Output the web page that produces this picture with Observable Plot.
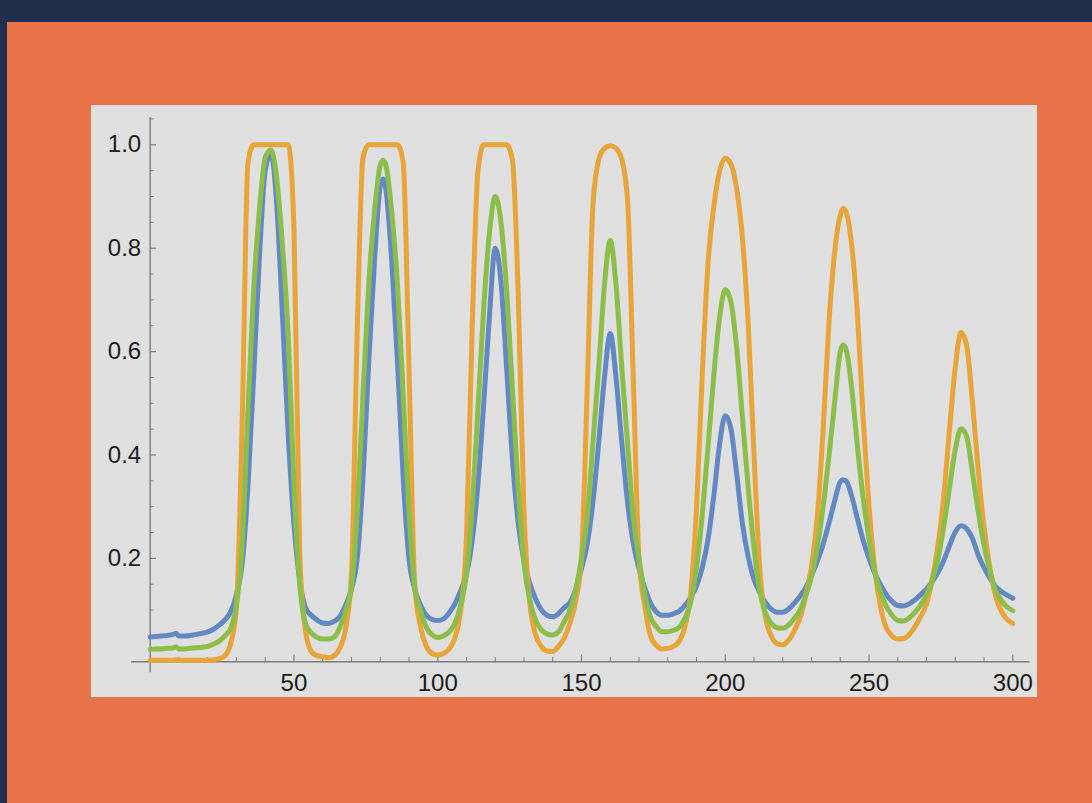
<!DOCTYPE html>
<html><head><meta charset="utf-8">
<script src="https://cdn.jsdelivr.net/npm/d3@7"></script>
<script src="https://cdn.jsdelivr.net/npm/@observablehq/plot@0.6"></script>
<style>
html,body{margin:0;padding:0;background:#1f2f4b;width:1092px;height:803px;overflow:hidden}
#bg{position:absolute;left:7px;top:22px;width:1085px;height:781px;background:#e8744a}
#panel{position:absolute;left:91px;top:105px;width:946px;height:592px;background:#e0e0e0}
#panel svg{display:block}
</style></head><body><div id="bg"></div><div id="panel"></div>
<script>
const xs = [0,2,4,6,8,9,10,12,14,16,18,20,22,24,26,28,30,32,34,36,38,40,42,44,46,48,50,52,54,56,58,60,62,64,66,68,70,72,74,76,78,80,81,82,84,86,88,90,92,94,96,98,100,102,104,106,108,110,112,114,116,118,120,122,124,126,128,130,132,134,136,138,140,142,144,146,148,150,152,154,156,158,160,162,164,166,168,170,172,174,176,178,180,182,184,186,188,190,192,194,196,198,200,202,204,206,208,210,212,214,216,218,220,222,224,226,228,230,232,234,236,238,240,241,242,244,246,248,250,252,254,256,258,260,262,264,266,268,270,272,274,276,278,280,282,284,286,288,290,292,294,296,298,300];

const series1 = [0.048,0.049,0.050,0.051,0.053,0.055,0.050,0.050,0.051,0.053,0.055,0.058,0.063,0.071,0.081,0.097,0.13,0.19,0.34,0.555,0.784,0.95,0.983,0.885,0.67,0.44,0.265,0.158,0.105,0.09,0.081,0.075,0.074,0.078,0.088,0.11,0.14,0.20,0.355,0.58,0.775,0.92,0.934,0.913,0.775,0.58,0.355,0.20,0.14,0.11,0.09,0.082,0.08,0.083,0.095,0.112,0.138,0.17,0.235,0.345,0.50,0.67,0.80,0.735,0.565,0.39,0.268,0.195,0.152,0.122,0.101,0.09,0.087,0.093,0.105,0.115,0.14,0.18,0.228,0.31,0.425,0.55,0.635,0.55,0.425,0.31,0.23,0.18,0.143,0.113,0.097,0.09,0.09,
0.093,0.098,0.109,0.125,0.147,0.182,0.237,0.32,0.42,0.476,0.45,0.362,0.266,0.202,0.159,0.134,0.115,0.102,0.096,0.096,0.102,0.113,0.127,0.144,0.167,0.194,0.227,0.267,0.31,0.348,0.352,0.35,0.32,0.276,0.234,0.20,0.172,0.149,0.13,0.117,0.109,0.108,0.112,0.12,0.13,0.141,0.155,0.173,0.196,0.225,0.251,0.263,0.257,0.238,0.206,0.182,0.162,0.146,0.136,0.129,0.123];

const series2 = [0.003,0.003,0.003,0.003,0.003,0.004,0.003,0.003,0.003,0.003,0.003,0.003,0.004,0.006,0.012,0.035,0.107,0.466,0.965,1.0,1.0,1.0,1.0,1.0,1.0,1.0,0.84,0.21,0.06,0.02,0.012,0.01,0.008,0.012,0.027,0.065,0.17,0.64,0.975,1.0,1.0,1.0,1.0,1.0,1.0,1.0,0.965,0.57,0.15,0.068,0.03,0.016,0.013,0.016,0.025,0.047,0.10,0.24,0.65,0.95,1.0,1.0,1.0,1.0,1.0,0.97,0.71,0.29,0.115,0.053,0.03,0.021,0.02,0.03,0.046,0.075,0.118,0.2,0.53,0.885,0.971,0.993,0.998,0.993,0.972,0.895,0.55,0.2,0.108,0.05,0.032,0.025,0.026,
0.03,0.04,0.068,0.134,0.296,0.555,0.77,0.88,0.948,0.974,0.962,0.914,0.818,0.65,0.40,0.18,0.085,0.05,0.035,0.033,0.042,0.06,0.085,0.128,0.185,0.28,0.445,0.65,0.79,0.864,0.877,0.87,0.805,0.67,0.465,0.30,0.18,0.107,0.066,0.05,0.044,0.045,0.053,0.068,0.088,0.112,0.159,0.226,0.32,0.45,0.57,0.637,0.61,0.50,0.37,0.26,0.183,0.128,0.098,0.082,0.074];

const series3 = [0.024,0.025,0.025,0.026,0.027,0.029,0.025,0.025,0.026,0.027,0.028,0.030,0.034,0.040,0.050,0.065,0.11,0.228,0.485,0.72,0.875,0.975,0.99,0.935,0.805,0.632,0.345,0.15,0.074,0.056,0.047,0.044,0.044,0.048,0.067,0.10,0.145,0.29,0.515,0.73,0.87,0.96,0.97,0.96,0.87,0.73,0.515,0.29,0.145,0.10,0.067,0.052,0.047,0.05,0.058,0.075,0.11,0.17,0.30,0.49,0.685,0.83,0.90,0.85,0.715,0.525,0.335,0.19,0.12,0.081,0.062,0.054,0.052,0.058,0.078,0.10,0.14,0.2,0.28,0.425,0.57,0.73,0.815,0.73,0.57,0.425,0.28,0.2,0.13,0.086,0.068,0.058,0.058,
0.061,0.067,0.084,0.116,0.183,0.285,0.415,0.553,0.665,0.72,0.695,0.605,0.47,0.335,0.22,0.137,0.094,0.074,0.066,0.065,0.071,0.084,0.10,0.128,0.165,0.222,0.298,0.395,0.50,0.60,0.613,0.605,0.528,0.415,0.315,0.237,0.173,0.135,0.107,0.09,0.08,0.079,0.085,0.096,0.11,0.13,0.159,0.20,0.262,0.337,0.41,0.451,0.435,0.365,0.29,0.225,0.177,0.138,0.119,0.106,0.099];

const xMajorTicks = [50,100,150,200,250,300];
const xMinorTicks = d3.range(10,300,10).filter(d => d % 50 !== 0);
const yMajorTicks = [0.2,0.4,0.6,0.8,1.0];
const yMinorTicks = [0.05,0.1,0.15,0.25,0.3,0.35,0.45,0.5,0.55,0.65,0.7,0.75,0.85,0.9,0.95,1.05];

const seriesColors = ["#6389c4","#e8a53c","#8dbd4a"];
const seriesValues = [series1, series2, series3];

const axisColor = "#7d7d7d";

const lineMarks = seriesValues.map((vals, k) =>
  Plot.line(xs.map((x, i) => ({x, y: vals[i]})).filter(d => d.y != null), {x: "x", y: "y", stroke: seriesColors[k], strokeWidth: 5, curve: "monotone-x", strokeLinejoin: "round"})
);

const chart = Plot.plot({
  width: 946, height: 592,
  marginLeft: 58.7, marginRight: 24.7, marginTop: 39.3, marginBottom: 35.7,
  style: {background: "transparent", fontFamily: "'Liberation Sans', Arial, sans-serif", fontSize: "24px", color: "#1c1c1c", overflow: "visible"},
  x: {domain: [0, 300], axis: null},
  y: {domain: [0, 1], axis: null},
  marks: [
    Plot.ruleY([0], {x1: -6.5, x2: 306, stroke: axisColor, strokeWidth: 1.4}),
    Plot.ruleX([0], {y1: -0.021, y2: 1.053, stroke: axisColor, strokeWidth: 1.4}),
    Plot.ruleX(xMajorTicks, {x: d => d, y1: 0, y2: 0.013, stroke: axisColor, strokeWidth: 1.2}),
    Plot.ruleX(xMinorTicks, {x: d => d, y1: 0, y2: 0.0083, stroke: axisColor, strokeWidth: 1}),
    Plot.ruleY(yMajorTicks, {y: d => d, x1: 0, x2: 2.2, stroke: axisColor, strokeWidth: 1.2}),
    Plot.ruleY(yMinorTicks, {y: d => d, x1: 0, x2: 1.4, stroke: axisColor, strokeWidth: 1}),
    Plot.axisX({anchor: "bottom", ticks: xMajorTicks, tickSize: 0, tickPadding: 12, tickFormat: d => String(d), label: null}),
    Plot.axisY({anchor: "left", ticks: yMajorTicks, tickSize: 0, tickPadding: 9, tickFormat: d3.format(".1f"), label: null}),
    ...lineMarks
  ]
});
document.getElementById("panel").appendChild(chart);
</script>
</body></html>
